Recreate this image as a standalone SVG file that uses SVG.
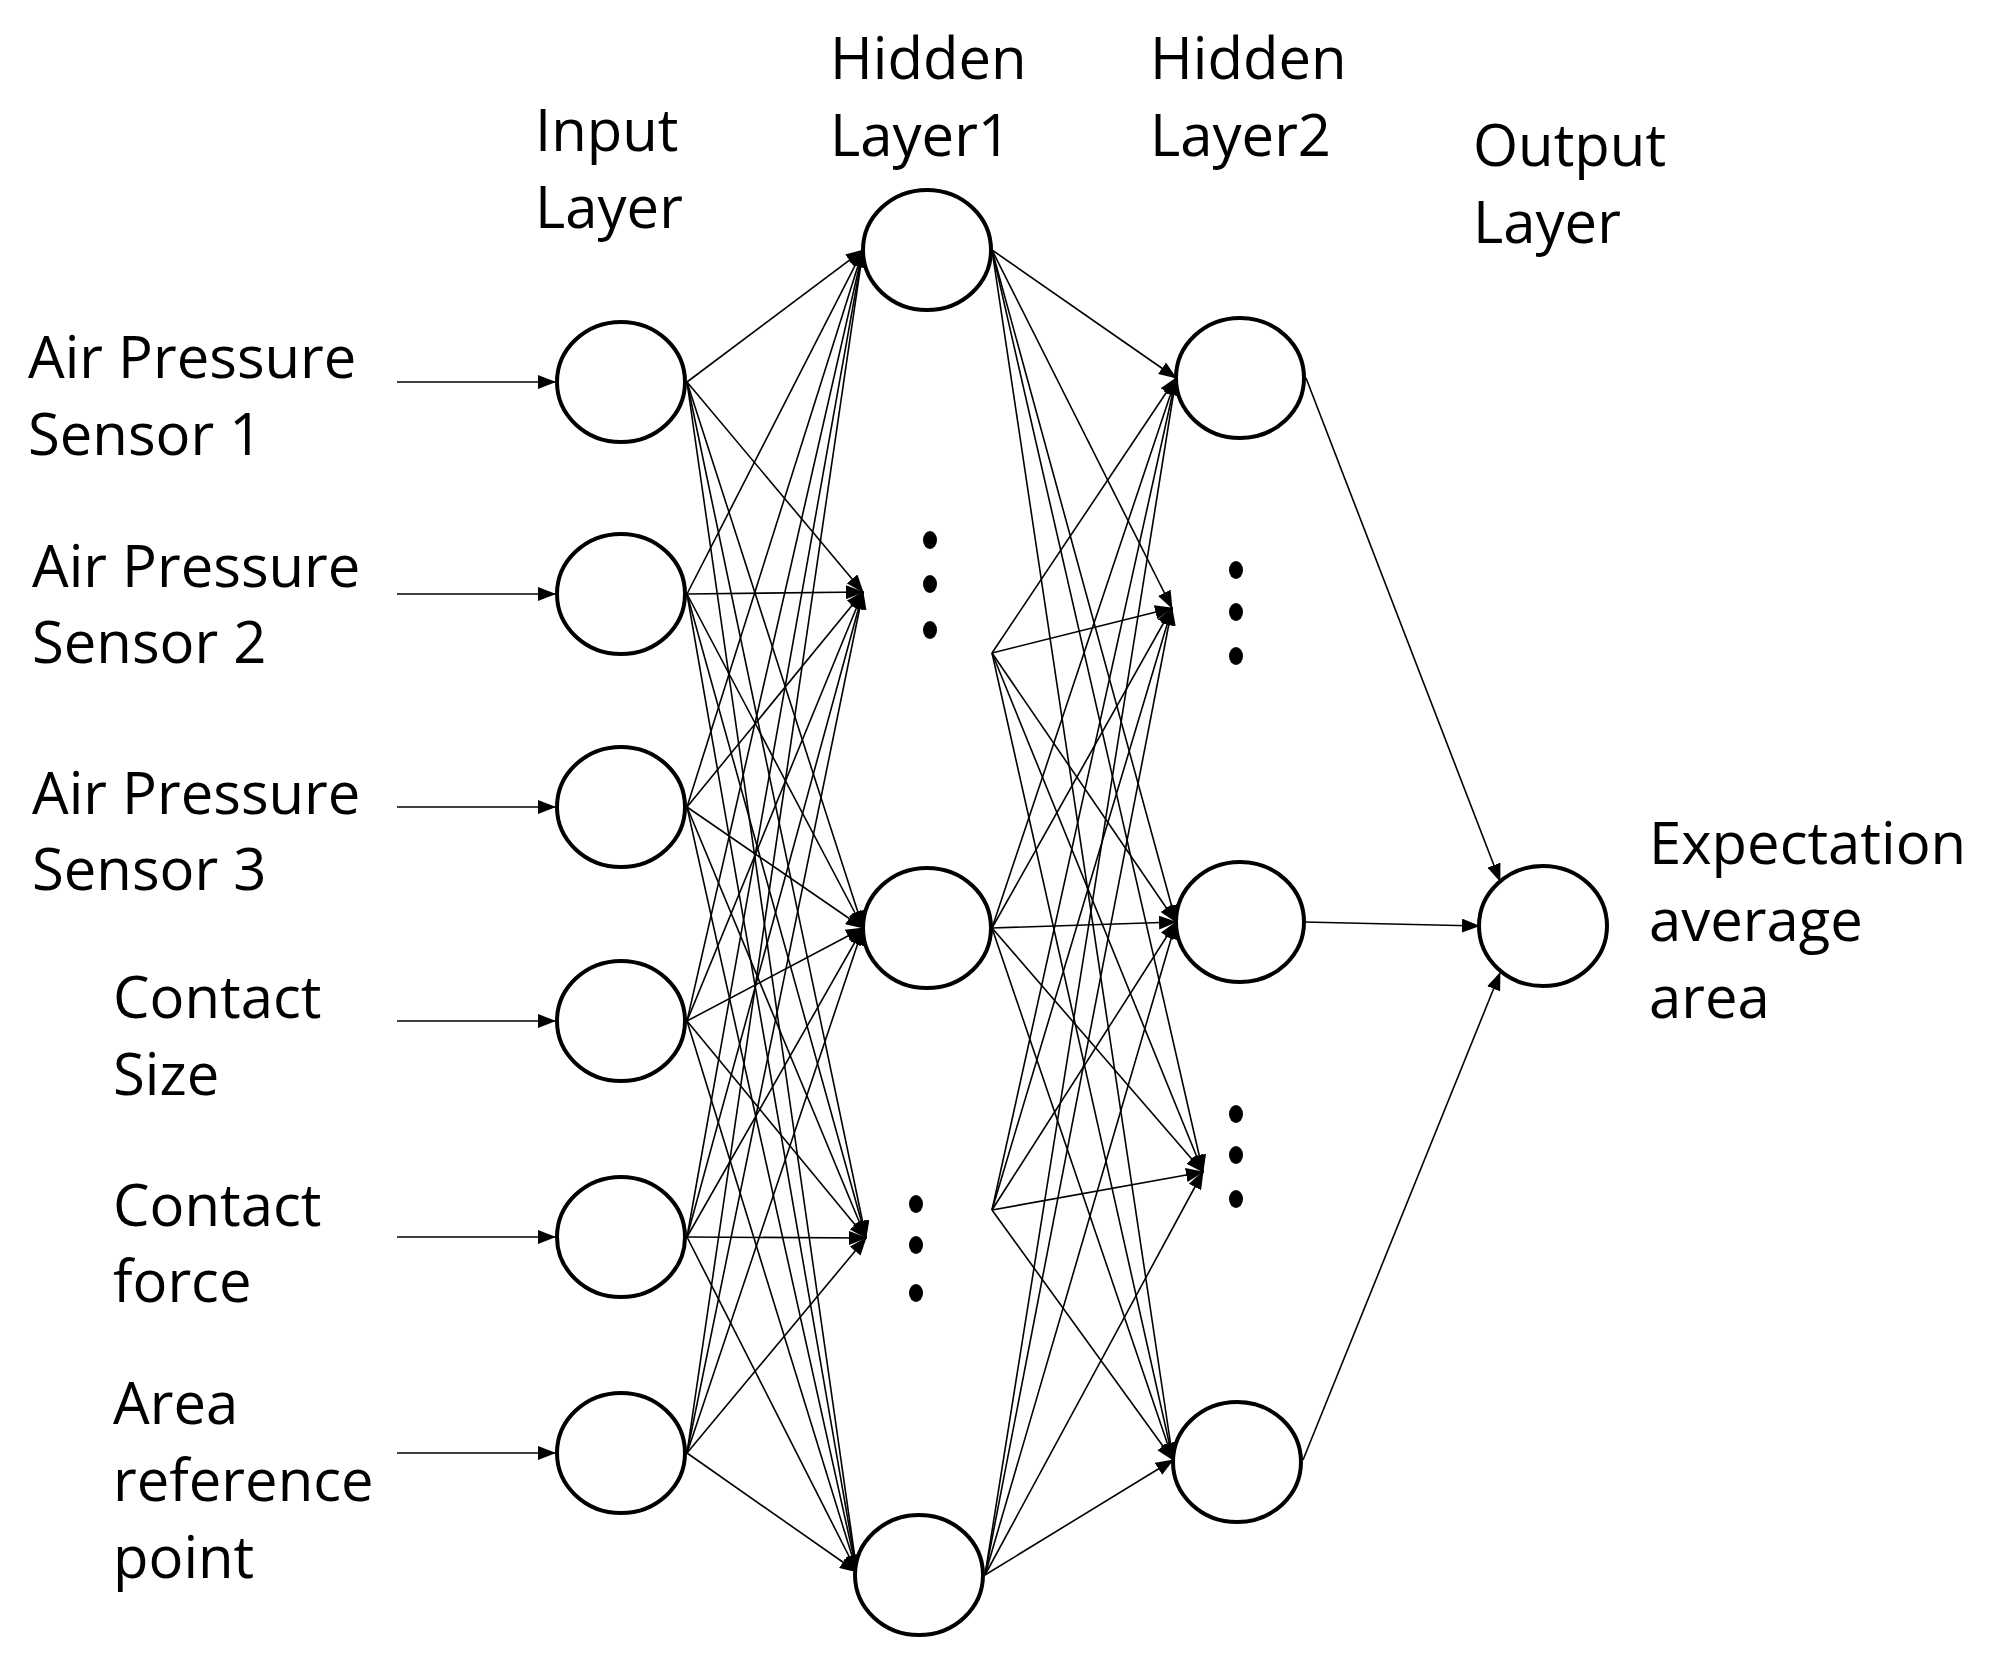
<svg xmlns="http://www.w3.org/2000/svg" width="2008" height="1666" viewBox="0 0 2008 1666">
<style>
text{font-family:"Open Sans","Noto Sans","DejaVu Sans",sans-serif;font-size:58px;fill:#000}
.n{fill:#fff;stroke:#000;stroke-width:4}
.c line{stroke:#000;stroke-width:1.6;marker-end:url(#a)}
.d{fill:#000}
</style>
<defs><marker id="a" markerUnits="userSpaceOnUse" markerWidth="18" markerHeight="14" refX="17" refY="7" orient="auto"><path d="M0,0L18,7L0,14z" fill="#000"/></marker></defs>
<rect width="2008" height="1666" fill="#fff"/>
<g id="labels">
<text x="535" y="151">Input</text><text x="535" y="228">Layer</text>
<text x="830" y="79">Hidden</text><text x="830" y="156">Layer1</text>
<text x="1150" y="79">Hidden</text><text x="1150" y="156">Layer2</text>
<text x="1473" y="166">Output</text><text x="1473" y="243">Layer</text>
<text x="28" y="378">Air Pressure</text><text x="28" y="455">Sensor 1</text>
<text x="32" y="587">Air Pressure</text><text x="32" y="663">Sensor 2</text>
<text x="32" y="814">Air Pressure</text><text x="32" y="890">Sensor 3</text>
<text x="113" y="1018">Contact</text><text x="113" y="1095">Size</text>
<text x="113" y="1226">Contact</text><text x="113" y="1302">force</text>
<text x="113" y="1424">Area</text><text x="113" y="1501">reference</text><text x="113" y="1578">point</text>
<text x="1649" y="864">Expectation</text><text x="1649" y="941">average</text><text x="1649" y="1018">area</text>
</g>
<g id="connectors" class="c">
<line x1="397" y1="382" x2="555" y2="382"/><line x1="397" y1="594" x2="555" y2="594"/><line x1="397" y1="807" x2="555" y2="807"/><line x1="397" y1="1021" x2="555" y2="1021"/><line x1="397" y1="1237" x2="555" y2="1237"/><line x1="397" y1="1453" x2="555" y2="1453"/>
<line x1="687" y1="382" x2="863" y2="250"/><line x1="687" y1="382" x2="863" y2="592"/><line x1="687" y1="382" x2="863" y2="928"/><line x1="687" y1="382" x2="866" y2="1238"/><line x1="687" y1="382" x2="857" y2="1572"/>
<line x1="687" y1="594" x2="863" y2="250"/><line x1="687" y1="594" x2="863" y2="592"/><line x1="687" y1="594" x2="863" y2="928"/><line x1="687" y1="594" x2="866" y2="1238"/><line x1="687" y1="594" x2="857" y2="1572"/>
<line x1="687" y1="807" x2="863" y2="250"/><line x1="687" y1="807" x2="863" y2="592"/><line x1="687" y1="807" x2="863" y2="928"/><line x1="687" y1="807" x2="866" y2="1238"/><line x1="687" y1="807" x2="857" y2="1572"/>
<line x1="687" y1="1021" x2="863" y2="250"/><line x1="687" y1="1021" x2="863" y2="592"/><line x1="687" y1="1021" x2="863" y2="928"/><line x1="687" y1="1021" x2="866" y2="1238"/><line x1="687" y1="1021" x2="857" y2="1572"/>
<line x1="687" y1="1237" x2="863" y2="250"/><line x1="687" y1="1237" x2="863" y2="592"/><line x1="687" y1="1237" x2="863" y2="928"/><line x1="687" y1="1237" x2="866" y2="1238"/><line x1="687" y1="1237" x2="857" y2="1572"/>
<line x1="687" y1="1453" x2="863" y2="250"/><line x1="687" y1="1453" x2="863" y2="592"/><line x1="687" y1="1453" x2="863" y2="928"/><line x1="687" y1="1453" x2="866" y2="1238"/><line x1="687" y1="1453" x2="857" y2="1572"/>
<line x1="992" y1="250" x2="1176" y2="378"/><line x1="992" y1="250" x2="1172" y2="608"/><line x1="992" y1="250" x2="1176" y2="922"/><line x1="992" y1="250" x2="1203" y2="1172"/><line x1="992" y1="250" x2="1173" y2="1460"/>
<line x1="992" y1="653" x2="1176" y2="378"/><line x1="992" y1="653" x2="1172" y2="608"/><line x1="992" y1="653" x2="1176" y2="922"/><line x1="992" y1="653" x2="1203" y2="1172"/><line x1="992" y1="653" x2="1173" y2="1460"/>
<line x1="992" y1="928" x2="1176" y2="378"/><line x1="992" y1="928" x2="1172" y2="608"/><line x1="992" y1="928" x2="1176" y2="922"/><line x1="992" y1="928" x2="1203" y2="1172"/><line x1="992" y1="928" x2="1173" y2="1460"/>
<line x1="992" y1="1210" x2="1176" y2="378"/><line x1="992" y1="1210" x2="1172" y2="608"/><line x1="992" y1="1210" x2="1176" y2="922"/><line x1="992" y1="1210" x2="1203" y2="1172"/><line x1="992" y1="1210" x2="1173" y2="1460"/>
<line x1="985" y1="1575" x2="1176" y2="378"/><line x1="985" y1="1575" x2="1172" y2="608"/><line x1="985" y1="1575" x2="1176" y2="922"/><line x1="985" y1="1575" x2="1203" y2="1172"/><line x1="985" y1="1575" x2="1173" y2="1460"/>
<line x1="1306" y1="378" x2="1500" y2="881"/><line x1="1304" y1="922" x2="1479" y2="926"/><line x1="1303" y1="1460" x2="1500" y2="973"/>
</g>
<g id="input-nodes">
<ellipse class="n" cx="621" cy="382" rx="64" ry="60"/><ellipse class="n" cx="621" cy="594" rx="64" ry="60"/><ellipse class="n" cx="621" cy="807" rx="64" ry="60"/><ellipse class="n" cx="621" cy="1021" rx="64" ry="60"/><ellipse class="n" cx="621" cy="1237" rx="64" ry="60"/><ellipse class="n" cx="621" cy="1453" rx="64" ry="60"/>
</g>
<g id="hidden1-nodes">
<ellipse class="n" cx="927" cy="250" rx="64" ry="60"/><ellipse class="n" cx="927" cy="928" rx="64" ry="60"/><ellipse class="n" cx="919" cy="1575" rx="64" ry="60"/>
<ellipse class="d" cx="930" cy="540" rx="7" ry="9"/><ellipse class="d" cx="930" cy="584" rx="7" ry="9"/><ellipse class="d" cx="930" cy="630" rx="7" ry="9"/>
<ellipse class="d" cx="916" cy="1204" rx="7" ry="9"/><ellipse class="d" cx="916" cy="1245" rx="7" ry="9"/><ellipse class="d" cx="916" cy="1293" rx="7" ry="9"/>
</g>
<g id="hidden2-nodes">
<ellipse class="n" cx="1240" cy="378" rx="64" ry="60"/><ellipse class="n" cx="1240" cy="922" rx="64" ry="60"/><ellipse class="n" cx="1237" cy="1462" rx="64" ry="60"/>
<ellipse class="d" cx="1236" cy="570" rx="7" ry="9"/><ellipse class="d" cx="1236" cy="612" rx="7" ry="9"/><ellipse class="d" cx="1236" cy="656" rx="7" ry="9"/>
<ellipse class="d" cx="1236" cy="1114" rx="7" ry="9"/><ellipse class="d" cx="1236" cy="1155" rx="7" ry="9"/><ellipse class="d" cx="1236" cy="1199" rx="7" ry="9"/>
</g>
<g id="output-node"><ellipse class="n" cx="1543" cy="926" rx="64" ry="60"/></g>
</svg>
